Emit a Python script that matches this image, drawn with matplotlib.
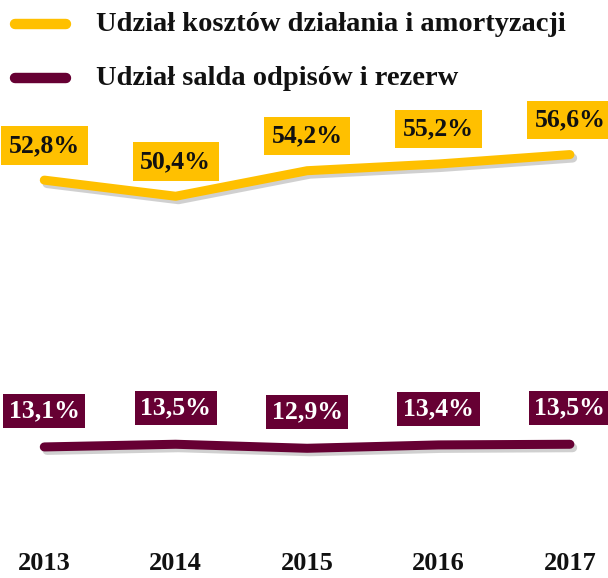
import matplotlib
matplotlib.use("Agg")
import matplotlib.pyplot as plt
import matplotlib.patheffects as pe

# dane
years = ["2013", "2014", "2015", "2016", "2017"]
koszty = [52.8, 50.4, 54.2, 55.2, 56.6]
odpisy = [13.1, 13.5, 12.9, 13.4, 13.5]
label_koszty = "Udział kosztów działania i amortyzacji"
label_odpisy = "Udział salda odpisów i rezerw"

GOLD = "#FFC000"
MAROON = "#660033"
FONT = "Liberation Serif"

fig = plt.figure(figsize=(6.08, 5.78), dpi=100)
ax = fig.add_axes([0, 0, 1, 1])
ax.set_xlim(-0.337, 4.29)
ax.set_ylim(-6.4, 79.6)
ax.axis("off")

x = list(range(len(years)))
shadow = [pe.SimpleLineShadow(offset=(2, -2.5), shadow_color="#666666", alpha=0.3),
          pe.Normal()]

ax.plot(x, koszty, color=GOLD, lw=6.5, solid_capstyle="round",
        solid_joinstyle="round", path_effects=shadow)
ax.plot(x, odpisy, color=MAROON, lw=6.5, solid_capstyle="round",
        solid_joinstyle="round", path_effects=shadow)

# etykiety wartości
for xi, v in zip(x, koszty):
    ax.annotate(f"{v:.1f}%".replace(".", ","), (xi, v), xytext=(0, 25),
                textcoords="offset points", ha="center", va="center",
                fontsize=18.5, fontweight="bold", family=FONT, color="#111111",
                bbox=dict(boxstyle="square,pad=0.3", fc=GOLD, ec="none"))
for xi, v in zip(x, odpisy):
    ax.annotate(f"{v:.1f}%".replace(".", ","), (xi, v), xytext=(0, 26),
                textcoords="offset points", ha="center", va="center",
                fontsize=18.5, fontweight="bold", family=FONT, color="white",
                bbox=dict(boxstyle="square,pad=0.22", fc=MAROON, ec="none"))

# lata
for xi, y in zip(x, years):
    ax.text(xi, -4.3, y, ha="center", va="center", fontsize=19,
            fontweight="bold", family=FONT, color="#111111")

# legenda
for ypos, col, lab in [(0.958, GOLD, label_koszty), (0.865, MAROON, label_odpisy)]:
    ax.plot([0.025, 0.108], [ypos, ypos], transform=ax.transAxes, color=col,
            lw=7.5, solid_capstyle="round")
    ax.text(0.158, ypos, lab, transform=ax.transAxes, ha="left", va="center",
            fontsize=20.5, fontweight="bold", family=FONT, color="#111111")

fig.savefig("out.png", dpi=100)
